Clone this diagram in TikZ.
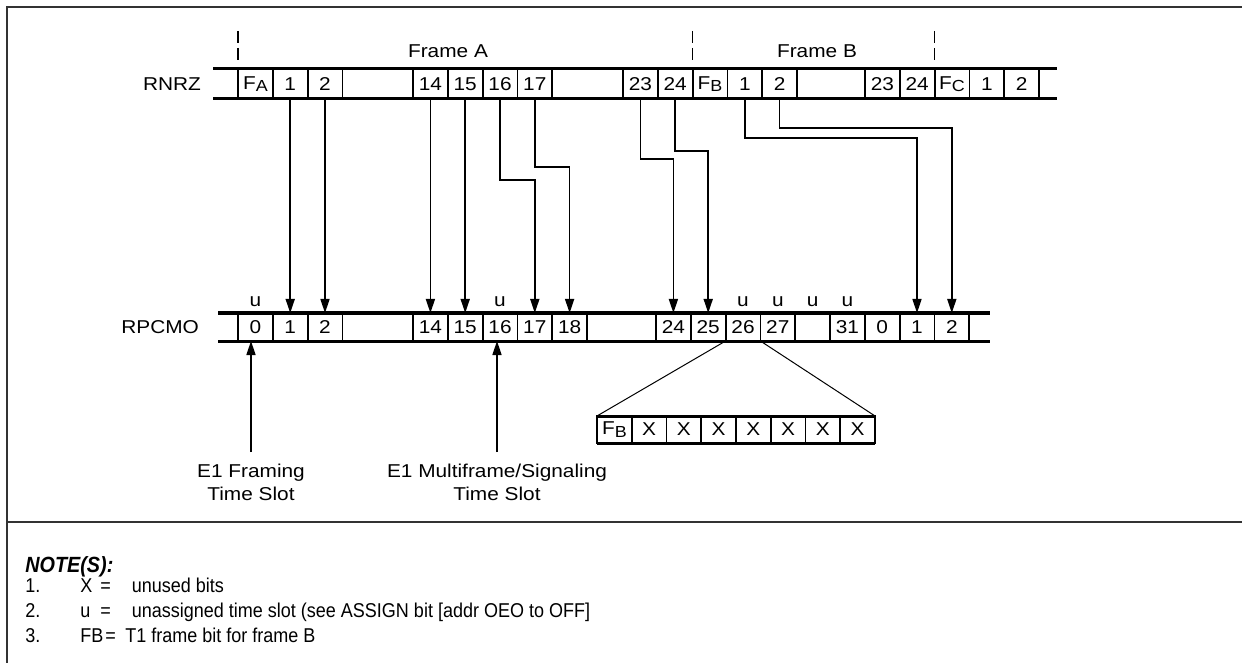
\documentclass[tikz,border=0pt]{standalone}
\usepackage{fontspec}
\setmainfont{Liberation Sans}[FakeStretch=1.12]
\newfontfamily\notefont{Liberation Sans}[FakeStretch=0.9]
\usepackage{tikz}
\usetikzlibrary{arrows.meta, positioning, calc}
\newcommand{\fsub}[1]{F\raisebox{-1.3pt}{\fontsize{8}{8}\selectfont #1}}
\tikzstyle{cell} = [draw, rectangle, line width=0.9pt, minimum width=17.4pt, minimum height=15pt, inner sep=0pt, outer sep=0pt]
\tikzstyle{rowline} = [line width=1.5pt]
\tikzstyle{arrow} = [line width=0.8pt, -{Triangle[width=4.5pt,length=7pt]}]
\tikzstyle{frameline} = [line width=0.8pt, dash pattern=on 6pt off 2.5pt]
\tikzstyle{ulbl} = [inner sep=0pt]
\tikzstyle{caption} = [align=center, anchor=north, inner sep=6pt]
\tikzstyle{border} = [line width=1pt, black!80]
\tikzstyle{note} = [anchor=base west, inner sep=0pt, font=\notefont\fontsize{10}{12}\selectfont]
\begin{document}
\begin{tikzpicture}[x=0.5pt, y=-0.5pt, font=\fontsize{9.3}{11.5}\selectfont]
    \useasboundingbox (0,0) rectangle (1242,663);
    % Frame
    \draw[border] (7,663) -- (7,7) -- (1242,7);
    \draw[border] (7,522) -- (1242,522);

    % RNRZ slots
    \foreach \nm/\txt [count=\i from 0] in {fa/{\fsub{A}}, a1/1, a2/2}
        \node[cell] (\nm) at ({238+34.8*\i+17.4},84) {\txt};
    \foreach \nm/\txt [count=\i from 0] in {a14/14, a15/15, a16/16, a17/17}
        \node[cell] (\nm) at ({413+34.8*\i+17.4},84) {\txt};
    \foreach \nm/\txt [count=\i from 0] in {a23/23, a24/24, fb/{\fsub{B}}, b1/1, b2/2}
        \node[cell] (\nm) at ({623+34.8*\i+17.4},84) {\txt};
    \foreach \nm/\txt [count=\i from 0] in {b23/23, b24/24, fc/{\fsub{C}}, c1/1, c2/2}
        \node[cell] (\nm) at ({865+34.8*\i+17.4},84) {\txt};
    \draw[rowline] ($(fa.north west)+(-25,0)$) -- ($(c2.north east)+(18,0)$);
    \draw[rowline] ($(fa.south west)+(-25,0)$) -- ($(c2.south east)+(18,0)$);
    \node[left=15pt of fa] (rnrz) {RNRZ};

    % RPCMO slots
    \foreach \nm/\txt [count=\i from 0] in {p0/0, p1/1, p2/2}
        \node[cell, minimum height=14pt] (\nm) at ({238+34.8*\i+17.4},327) {\txt};
    \foreach \nm/\txt [count=\i from 0] in {p14/14, p15/15, p16/16, p17/17, p18/18}
        \node[cell, minimum height=14pt] (\nm) at ({413+34.8*\i+17.4},327) {\txt};
    \foreach \nm/\txt [count=\i from 0] in {p24/24, p25/25, p26/26, p27/27}
        \node[cell, minimum height=14pt] (\nm) at ({656+34.8*\i+17.4},327) {\txt};
    \foreach \nm/\txt [count=\i from 0] in {p31/31, q0/0, q1/1, q2/2}
        \node[cell, minimum height=14pt] (\nm) at ({830+34.8*\i+17.4},327) {\txt};
    \draw[rowline] ($(p0.north west)+(-20,0)$) -- ($(q2.north east)+(21,0)$);
    \draw[rowline] ($(p0.south west)+(-20,0)$) -- ($(q2.south east)+(21,0)$);
    \node[left=16pt of p0] (rpcmo) {RPCMO};

    % Frame marks
    \node[anchor=base] (frA) at (448,58) {Frame A};
    \node[anchor=base] (frB) at (817,58) {Frame B};
    \foreach \c in {fa,fb,fc}
        \draw[frameline] ($(\c.north west)+(0,-38)$) -- ++(0,31);

    % Unassigned slots
    \coordinate (pgap) at ($(p27.north)!0.5!(p31.north)$);
    \foreach \c in {p0,p16,p26,p27,pgap,p31}
        \node[ulbl, above=3pt of \c] (u\c) {u};

    % Slot mapping
    \draw[arrow] (a1.south) -- (p1.north);
    \draw[arrow] (a2.south) -- (p2.north);
    \draw[arrow] (a14.south) -- (p14.north);
    \draw[arrow] (a15.south) -- (p15.north);
    \draw[arrow] (a16.south) -- ++(0,81) -| (p17.north);
    \draw[arrow] (a17.south) -- ++(0,68) -| (p18.north);
    \draw[arrow] (a23.south) -- ++(0,60) -| (p24.north);
    \draw[arrow] (a24.south) -- ++(0,52) -| (p25.north);
    \draw[arrow] (b1.south) -- ++(0,39) -| (q1.north);
    \draw[arrow] (b2.south) -- ++(0,29) -| (q2.north);

    % Time slot 26 expanded
    \foreach \txt [count=\i from 0] in {{\fsub{B}},X,X,X,X,X,X,X}
        \node[cell, minimum height=13.5pt] (e\i) at ({597+34.75*\i+17.375},429.5) {\txt};
    \draw[rowline] (e0.north west) -- (e7.north east);
    \draw[rowline] (e0.south west) -- (e7.south east);
    \draw[line width=0.5pt] (p26.south west) -- (e0.north west);
    \draw[line width=0.5pt] (p26.south east) -- (e7.north east);

    % E1 time slots
    \node[caption] (e1f) at (251,452) {E1 Framing\\Time Slot};
    \node[caption] (e1m) at (497,452) {E1 Multiframe/Signaling\\Time Slot};
    \draw[arrow] (e1f.north) -- (e1f.north |- p0.south);
    \draw[arrow] (e1m.north) -- (e1m.north |- p16.south);

    % Notes
    \node[note, font=\notefont\fontsize{11}{12}\selectfont\bfseries\itshape] (notehd) at (25,572) {NOTE(S):};
    \node[note] (note1) at (25,592) {\makebox[27.5pt][l]{1.}\makebox[10pt][l]{X}=\hspace{10.5pt}unused bits};
    \node[note] (note2) at (25,617) {\makebox[27.5pt][l]{2.}\makebox[10pt][l]{u}=\hspace{10.5pt}unassigned time slot (see ASSIGN bit [addr OEO to OFF]};
    \node[note] (note3) at (25,642) {\makebox[27.5pt][l]{3.}FB\hspace{1pt}=\hspace{4.7pt}T1 frame bit for frame B};
\end{tikzpicture}
\end{document}
